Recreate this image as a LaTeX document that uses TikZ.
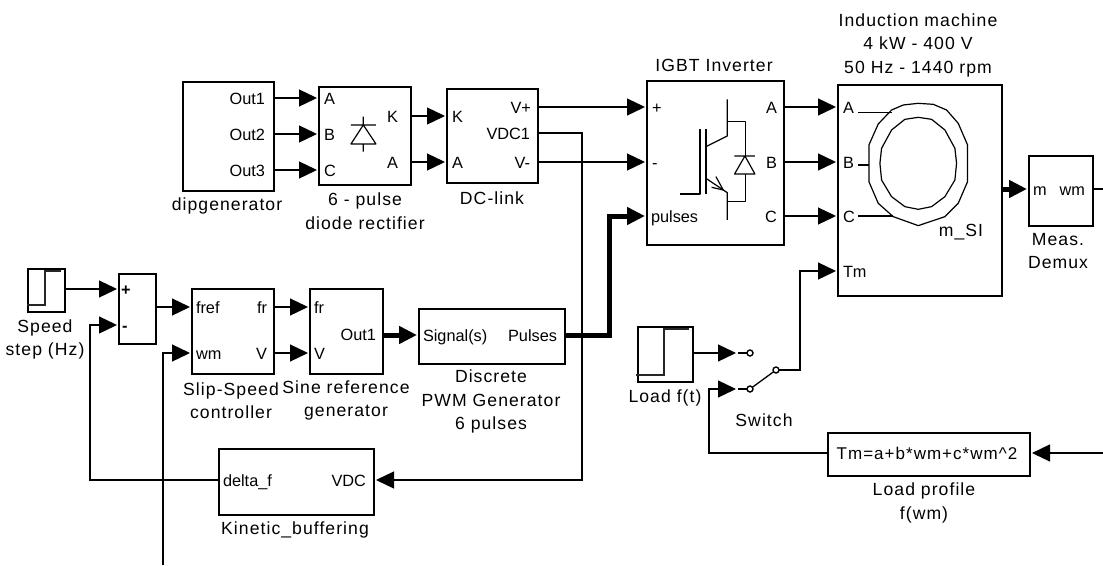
\documentclass[tikz,border=0pt]{standalone}
\usepackage{fontspec}
\setmainfont{Liberation Sans}
\newfontfamily\capfont{Liberation Sans}[LetterSpace=6]
\usetikzlibrary{arrows.meta}
\tikzset{
  blk/.style={draw=black,line width=1.4pt,inner sep=0pt,outer sep=0pt,fill=white},
  wire/.style={draw=black,line width=1.3pt,-{Triangle[length=18pt,width=17pt]},shorten >=2pt},
  plain/.style={draw=black,line width=1.3pt},
  fat/.style={draw=black,line width=5pt,-{Triangle[length=18pt,width=17pt]},shorten >=2pt},
  pl/.style={inner sep=0pt,outer sep=0pt,text height=12pt,text depth=0pt,font=\fontsize{16.3}{19}\selectfont},
  capt/.style={inner sep=0pt,outer sep=0pt,align=center,font=\capfont\fontsize{17.6}{23.5}\selectfont},
  glyph/.style={draw=black,line width=1.2pt,line join=round},
  stepg/.style={draw=black!85,line width=1.4pt},
  swc/.style={circle,draw=black,fill=white,line width=1.4pt,inner sep=0pt,minimum size=6pt,outer sep=0pt}
}
\newcommand\blk[5]{\node[blk,minimum width={(#4-#2)*1pt},minimum height={(#5-#3)*1pt}] (#1) at ({(#2+#4)/2},{(#3+#5)/2}) {};}
\newcommand\pL[4]{\node[pl,anchor=west] (#1) at (#2,#3) {#4};}
\newcommand\pR[4]{\node[pl,anchor=east] (#1) at (#2,#3) {#4};}
\begin{document}
\begin{tikzpicture}[x=1pt,y=-1pt]
\useasboundingbox[fill=white] (0,0) rectangle (1103,565);
% blocks
\blk{dip}{183}{82}{274}{191}
\blk{rect}{319}{87}{411}{185}
\blk{dc}{447}{89}{538}{183}
\blk{igbt}{647}{81}{784}{245}
\blk{mach}{838}{85}{1002}{296}
\blk{demux}{1029}{156}{1093}{226}
\blk{spd}{28}{269}{65}{312}
\blk{sum}{119}{274}{156}{344}
\blk{slip}{192}{289}{274}{374}
\blk{sine}{310}{289}{383}{374}
\blk{pwm}{419}{309}{565}{364}
\blk{kin}{219}{449}{374}{515}
\blk{load}{638}{327}{693}{382}
\blk{prof}{828}{433}{1030}{476}
% port labels
\pR{dO1}{265}{98}{Out1}\pR{dO2}{265}{134}{Out2}\pR{dO3}{265}{170}{Out3}
\pL{rA}{324}{98}{A}\pL{rB}{324}{134}{B}\pL{rC}{324}{170}{C}
\pR{rK}{398}{116}{K}\pR{rAo}{398}{162}{A}
\pL{dK}{452}{116}{K}\pL{dA}{452}{162}{A}
\pR{dVp}{531}{107}{V+}\pR{dV1}{530}{133}{VDC1}\pR{dVm}{530}{162}{V-}
\pL{iP}{652}{107}{+}\pL{iM}{652}{162}{-}\pL{iPu}{651}{216}{pulses}
\pR{iA}{777}{107}{A}\pR{iB}{777}{162}{B}\pR{iC}{777}{216}{C}
\pL{mA}{843}{107}{A}\pL{mB}{843}{162}{B}\pL{mC}{843}{216}{C}\pL{mT}{843}{271}{Tm}
\pL{demM}{1033}{189}{m}\pR{demW}{1085}{189}{wm}
\pL{sP}{121}{289}{\textbf{+}}\pL{sM}{122}{325}{\textbf{-}}
\pL{slF}{196}{307}{fref}\pR{slR}{267}{307}{fr}\pL{slW}{196}{353}{wm}\pR{slV}{267}{353}{V}
\pL{siF}{314}{307}{fr}\pL{siV}{314}{353}{V}\pR{siO}{376}{334}{Out1}
\pL{pwS}{423}{335}{Signal(s)}\pR{pwP}{557}{335}{Pulses}
\pL{kD}{223}{480}{delta\_f}\pR{kV}{366}{480}{VDC}
\node[pl,font=\capfont\fontsize{17}{19}\selectfont] (tmtxt) at (927,453) {Tm=a+b*wm+c*wm\textasciicircum 2};
\node[pl,font=\capfont\fontsize{17.6}{19}\selectfont] (mSI) at (961,230) {m\_SI};
% captions
\node[capt] (cDip) at (227,205.5) {dipgenerator};
\node[capt] (cRect) at (365,211) {6 - pulse\\diode  rectifier};
\node[capt] (cDc) at (492,198) {DC-link};
\node[capt] (cIg) at (714,65) {IGBT Inverter};
\node[capt] (cMa) at (918,45) {Induction machine\\4 kW - 400 V\\50 Hz - 1440 rpm};
\node[capt] (cDe) at (1058,251) {Meas.\\Demux};
\node[capt] (cSp) at (45,339.5) {Speed\\step (Hz)};
\node[capt] (cSl) at (231,400.5) {Slip-Speed\\controller};
\node[capt] (cSi) at (346,400.5) {Sine reference\\generator};
\node[capt] (cPw) at (491,401.5) {Discrete\\PWM Generator\\6 pulses};
\node[capt] (cKi) at (295,529.5) {Kinetic\_buffering};
\node[capt] (cLo) at (665,397.5) {Load f(t)};
\node[capt] (cSw) at (764,420) {Switch};
\node[capt] (cPr) at (924,503) {Load profile\\f(wm)};
% switch contacts
\node[swc] (swA) at (750,353) {};
\node[swc] (swB) at (750,389) {};
\node[swc] (swO) at (776,370) {};
% free ends and bends
\coordinate (eW) at (1103,189);
\coordinate (eP) at (1103,453);
\coordinate (eB) at (163,565);
\coordinate (bVdc) at (582,480);
\coordinate (bSum) at (90,325);
\coordinate (bPwm) at (609,216);
\coordinate (bProf) at (709,389);
\coordinate (bTm) at (800,271);
\coordinate (tipA) at (738,353);
\coordinate (tipB) at (738,389);
% connectors
\draw[wire] (dip.east |- dO1) -- (rect.west |- rA);
\draw[wire] (dip.east |- dO2) -- (rect.west |- rB);
\draw[wire] (dip.east |- dO3) -- (rect.west |- rC);
\draw[wire] (rect.east |- rK) -- (dc.west |- dK);
\draw[wire] (rect.east |- rAo) -- (dc.west |- dA);
\draw[wire] (dc.east |- dV1) -| (bVdc) -- (kin.east |- kV);
\draw[wire] (dc.east |- dVp) -- (igbt.west |- iP);
\draw[wire] (dc.east |- dVm) -- (igbt.west |- iM);
\draw[wire] (igbt.east |- iA) -- (mach.west |- mA);
\draw[wire] (igbt.east |- iB) -- (mach.west |- mB);
\draw[wire] (igbt.east |- iC) -- (mach.west |- mC);
\draw[fat] (mach.east |- demM) -- (demux.west |- demM);
\draw[plain] (demux.east |- demW) -- (eW);
\draw[wire] (spd.east |- sP) -- (sum.west |- sP);
\draw[wire] (kin.west |- kD) -| (bSum) -- (sum.west |- sM);
\draw[wire] (sum.east |- slF) -- (slip.west |- slF);
\draw[wire] (eB) |- (slip.west |- slW);
\draw[wire] (slip.east |- slR) -- (sine.west |- siF);
\draw[wire] (slip.east |- slV) -- (sine.west |- siV);
\draw[fat] (sine.east |- pwS) -- (pwm.west |- pwS);
\draw[fat,line join=miter] (pwm.east |- pwP) -| (bPwm) -- (igbt.west |- iPu);
\draw[plain] (tipA) -- (swA);
\draw[plain] (tipB) -- (swB);
\draw[wire] (load.east |- swA) -- (tipA);
\draw[wire] (prof.west |- eP) -| (bProf) -- (tipB);
\draw[plain] (swB) -- (swO);
\draw[wire] (swO) -| (bTm) -- (mach.west |- mT);
\draw[wire] (eP) -- (prof.east |- eP);
% step glyphs
\draw[stepg] (27,305) -- (45,305) -- (45,271) -- (61,271);
\draw[stepg] (636,375) -- (664,375) -- (664,329) -- (689,329);
% diode in rectifier (zoom coordinates)
\begin{scope}[x=0.3333pt,y=-0.3333pt,shift={(510,210)}]
\draw[glyph] (580,140) -- (580,165) (543,165) -- (618,165) (580,165) -- (543,222) -- (618,222) -- cycle (580,222) -- (580,245);
\end{scope}
% IGBT and machine glyphs (zoom coordinates)
\begin{scope}[x=0.3333pt,y=-0.3333pt,shift={(1890,0)}]
\draw[glyph] (150,582) -- (210,582) -- (210,388);
\draw[glyph] (228,388) -- (228,582);
\draw[glyph] (292,298) -- (292,408) -- (228,440);
\draw[glyph] (292,365) -- (347,365) -- (347,468);
\draw[glyph] (347,522) -- (347,605) -- (292,605);
\draw[glyph] (228,535) -- (292,578) -- (292,660);
\draw[glyph] (258,530) -- (280,570) -- (245,562);
\draw[glyph] (313,468) -- (375,468) (345,468) -- (314,522) -- (375,522) -- cycle;
\draw[glyph] (865,310) -- (910,313) -- (950,330) -- (985,370) -- (1013,435) -- (1013,545) -- (985,610) -- (945,650) -- (865,677) -- (790,650) -- (745,610) -- (717,545) -- (717,435) -- (745,372) -- (785,330) -- (820,315) -- cycle;
\draw[glyph] (865,352) -- (905,358) -- (945,390) -- (975,445) -- (980,490) -- (975,540) -- (945,590) -- (905,620) -- (865,628) -- (825,620) -- (785,590) -- (755,540) -- (750,490) -- (755,445) -- (785,390) -- (825,358) -- cycle;
\draw[glyph] (685,338) -- (785,338) (685,495) -- (717,495) (685,648) -- (790,648);
\end{scope}
\end{tikzpicture}
\end{document}
